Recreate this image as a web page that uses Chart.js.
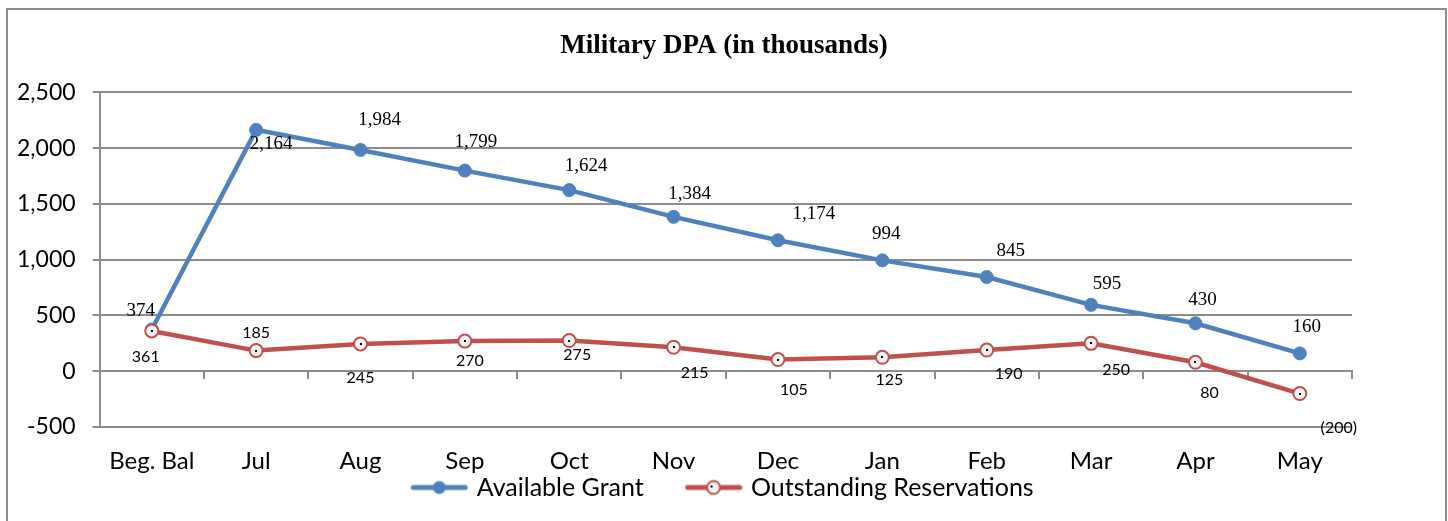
<!DOCTYPE html>
<html>
<head>
<meta charset="utf-8">
<script src="https://cdn.jsdelivr.net/npm/chart.js@4"></script>
<style>
  body { margin: 0; background: #fff; overflow: hidden; }
  #frame { position: absolute; left: 6px; top: 8px; width: 1437px; height: 600px; border: 2px solid #8c8c8c; }
  #wrap { position: absolute; left: 0; top: 0; width: 1448px; height: 521px; }
</style>
</head>
<body>
<div id="frame"></div>
<div id="wrap"><canvas id="dpaChart"></canvas></div>
<script>
const months = ['Beg. Bal', 'Jul', 'Aug', 'Sep', 'Oct', 'Nov', 'Dec', 'Jan', 'Feb', 'Mar', 'Apr', 'May'];
const availableGrant = [374, 2164, 1984, 1799, 1624, 1384, 1174, 994, 845, 595, 430, 160];
const outstandingReservations = [361, 185, 245, 270, 275, 215, 105, 125, 190, 250, 80, -200];
const yMin = -500;
const yMax = 2500;
const yStep = 500;

const blue = '#4f81bd';
const red = '#c0504d';
const gridColor = '#8c8c8c';
const sansFont = 'Lato, "Liberation Sans", sans-serif';
const serifFont = '"Liberation Serif", "DejaVu Serif", serif';

// where each value label sits relative to its point (px)
const grantLabelOffsets = [[-11, -19], [15, 14], [19, -30], [11, -29], [17, -24], [16, -23], [36, -26], [4, -26], [24, -26], [16, -21], [7, -23], [7, -26]];
const reservLabelOffsets = [[-6, 26], [0, -18], [0, 34], [5, 20], [8, 14], [21, 26], [16, 30], [7, 23], [22, 24], [25, 26], [14, 31], [39, 34]];

function fmt(v) {
    const s = Math.abs(v).toLocaleString('en-US');
    return v < 0 ? '(' + s + ')' : s;
}

function legendSymbol(color, fill) {
    const c = document.createElement('canvas');
    c.width = 58;
    c.height = 18;
    const ctx = c.getContext('2d');
    ctx.strokeStyle = color;
    ctx.lineWidth = 5;
    ctx.lineCap = 'round';
    ctx.beginPath();
    ctx.moveTo(3, 9);
    ctx.lineTo(55, 9);
    ctx.stroke();
    ctx.beginPath();
    ctx.arc(29, 9, 6.5, 0, Math.PI * 2);
    ctx.fillStyle = fill;
    ctx.fill();
    if (fill !== color) {
        ctx.lineWidth = 2;
        ctx.stroke();
        ctx.fillStyle = '#000';
        ctx.fillRect(26, 7, 2, 2);
    }
    return c;
}

const valueLabels = {
    id: 'valueLabels',
    afterDatasetsDraw(chart) {
        const ctx = chart.ctx;
        ctx.save();
        ctx.textAlign = 'center';
        ctx.textBaseline = 'middle';
        ctx.fillStyle = '#000';
        chart.data.datasets.forEach((ds, i) => {
            const meta = chart.getDatasetMeta(i);
            const isGrant = ds.label === 'Available Grant';
            const offs = isGrant ? grantLabelOffsets : reservLabelOffsets;
            ctx.font = isGrant ? '19px ' + serifFont : '16px ' + sansFont;
            meta.data.forEach((pt, j) => {
                if (!isGrant) {
                    ctx.fillRect(Math.round(pt.x) - 1, Math.round(pt.y) - 1, 2, 2);
                }
                ctx.fillText(fmt(ds.data[j]), pt.x + offs[j][0], pt.y + offs[j][1]);
            });
        });
        ctx.restore();
    }
};

new Chart(document.getElementById('dpaChart'), {
    type: 'line',
    data: {
        labels: months,
        datasets: [{
            label: 'Available Grant',
            data: availableGrant,
            borderColor: blue,
            backgroundColor: blue,
            borderWidth: 4.5,
            pointRadius: 6.5,
            pointBorderWidth: 1,
            pointBackgroundColor: blue,
            pointBorderColor: blue,
            tension: 0,
            order: 1
        }, {
            label: 'Outstanding Reservations',
            data: outstandingReservations,
            borderColor: red,
            backgroundColor: red,
            borderWidth: 4.5,
            pointRadius: 6.5,
            pointBorderWidth: 2,
            pointBackgroundColor: '#f2f2f2',
            pointBorderColor: red,
            tension: 0,
            order: 0
        }]
    },
    options: {
        responsive: true,
        maintainAspectRatio: false,
        animation: false,
        layout: {
            padding: { left: 0, right: 0, top: 0, bottom: 11 }
        },
        scales: {
            x: {
                offset: true,
                grid: { display: false, drawTicks: false },
                border: { display: false },
                ticks: {
                    padding: 20,
                    color: '#000',
                    font: { family: sansFont, size: 24 }
                },
                // labels hang lower than the box the axis keeps for itself
                afterFit: scale => { scale.height = 48; }
            },
            xZero: {
                axis: 'x',
                type: 'category',
                labels: months,
                position: { y: 0 },
                offset: true,
                grid: {
                    offset: true,
                    drawOnChartArea: false,
                    drawTicks: true,
                    tickLength: 7,
                    color: gridColor,
                    lineWidth: 2
                },
                border: { display: true, color: gridColor, width: 2 },
                ticks: { display: false }
            },
            y: {
                min: yMin,
                max: yMax,
                ticks: {
                    stepSize: yStep,
                    padding: 17,
                    color: '#000',
                    font: { family: sansFont, size: 23 },
                    callback: v => v.toLocaleString('en-US')
                },
                grid: { color: gridColor, lineWidth: 2, tickLength: 7 },
                border: { display: true, color: gridColor, width: 2 }
            },
            // empty right-hand axis: keeps the blank strip right of the plot
            yRight: {
                axis: 'y',
                position: 'right',
                grid: { display: false, drawTicks: false },
                border: { display: false },
                ticks: { display: false },
                afterFit: scale => { scale.width = 96; }
            }
        },
        plugins: {
            title: {
                display: true,
                text: 'Military DPA (in thousands)',
                color: '#000',
                font: { family: serifFont, size: 27, weight: 'bold' },
                padding: { top: 30, bottom: 30 }
            },
            legend: {
                position: 'bottom',
                labels: {
                    usePointStyle: true,
                    pointStyleWidth: 50,
                    padding: 0,
                    color: '#000',
                    font: { family: sansFont, size: 25 },
                    // trailing spaces give the gap between the two entries
                    generateLabels: chart => chart.data.datasets.map((ds, i) => ({
                        text: i === 0 ? ds.label + '       ' : ds.label,
                        datasetIndex: i,
                        pointStyle: legendSymbol(ds.borderColor, ds.pointBackgroundColor),
                        fontColor: '#000',
                        lineWidth: 0,
                        strokeStyle: 'transparent',
                        fillStyle: 'transparent'
                    }))
                }
            },
            tooltip: { enabled: false }
        }
    },
    plugins: [valueLabels]
});
</script>
</body>
</html>
